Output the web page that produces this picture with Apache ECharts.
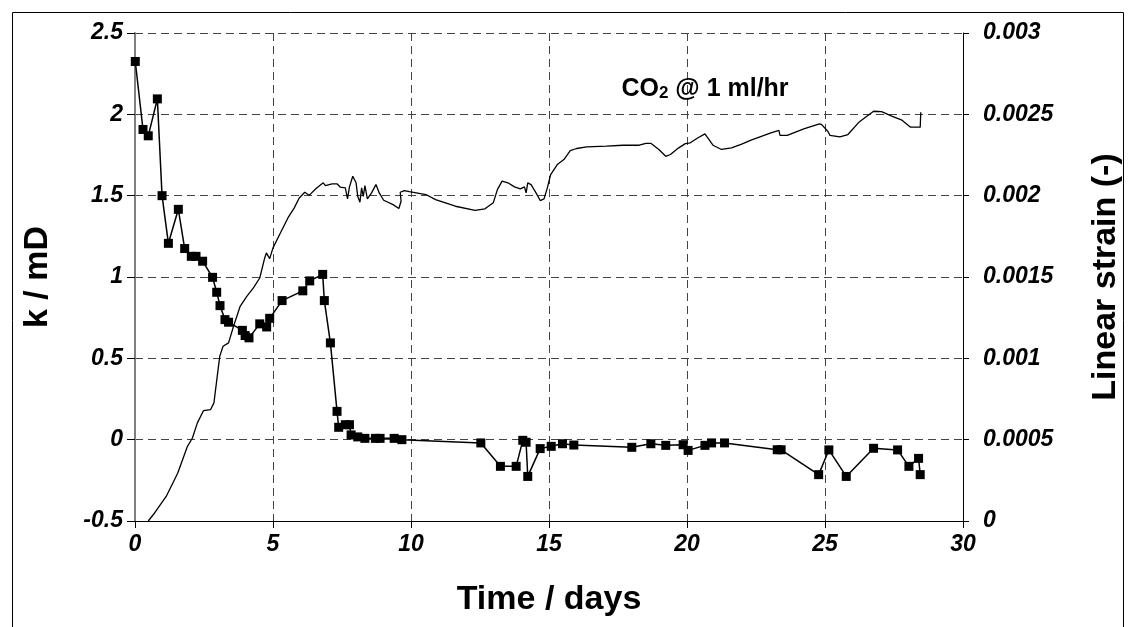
<!DOCTYPE html>
<html>
<head>
<meta charset="utf-8">
<script src="https://cdn.jsdelivr.net/npm/echarts@6/dist/echarts.min.js"></script>
<style>
  html, body { margin: 0; padding: 0; background: #fff; }
  #chart { width: 1131px; height: 627px; }
</style>
</head>
<body>
<div id="chart"></div>
<script>
// Axis ticks
const dayTicks = [0, 5, 10, 15, 20, 25, 30];
const kTicks = [-0.5, 0, 0.5, 1, 1.5, 2, 2.5];
const strainTicks = [0, 0.0005, 0.001, 0.0015, 0.002, 0.0025, 0.003];

// Permeability measurements (days, mD)
const kDays = [0.01, 0.29, 0.48, 0.81, 0.98, 1.21, 1.57, 1.80, 2.04, 2.21, 2.45, 2.81, 2.96, 3.08, 3.26, 3.39,
  3.89, 3.99, 4.13, 4.52, 4.77, 4.88, 5.33, 6.08, 6.33, 6.80, 6.86, 7.08, 7.32, 7.38, 7.62, 7.77, 7.83, 8.07,
  8.33, 8.71, 8.88, 9.39, 9.67, 12.53, 13.24, 13.81, 14.05, 14.17, 14.23, 14.68, 15.08, 15.49, 15.90, 18.0,
  18.69, 19.23, 19.86, 20.04, 20.65, 20.89, 21.36, 23.27, 23.41, 24.77, 25.14, 25.77, 26.76, 27.63, 28.04,
  28.39, 28.45];
const kValues = [2.325, 1.907, 1.868, 2.095, 1.50, 1.207, 1.416, 1.175, 1.127, 1.127, 1.097, 0.998, 0.906, 0.824,
  0.738, 0.722, 0.672, 0.64, 0.626, 0.712, 0.693, 0.746, 0.855, 0.915, 0.976, 1.016, 0.855, 0.595, 0.174, 0.076,
  0.092, 0.092, 0.029, 0.017, 0.008, 0.008, 0.008, 0.008, 0.0, -0.02, -0.164, -0.164, -0.004, -0.016, -0.226,
  -0.055, -0.041, -0.025, -0.033, -0.047, -0.025, -0.035, -0.031, -0.066, -0.035, -0.02, -0.02, -0.062, -0.062,
  -0.215, -0.063, -0.226, -0.053, -0.063, -0.164, -0.115, -0.215];

// Linear strain record (days, -)
const strainDays = [0.48, 0.71, 1.13, 1.55, 1.90, 2.08, 2.26, 2.48, 2.74, 2.86, 2.95, 3.07, 3.19, 3.39, 3.57,
  3.81, 4.05, 4.29, 4.52, 4.70, 4.76, 4.88, 5.0, 5.24, 5.54, 5.77, 5.95, 6.15, 6.31, 6.55, 6.82, 6.90, 7.14,
  7.32, 7.44, 7.62, 7.70, 7.77, 7.89, 8.01, 8.07, 8.15, 8.21, 8.27, 8.33, 8.42, 8.57, 8.73, 8.85, 9.01, 9.35,
  9.56, 9.64, 9.61, 9.76, 9.94, 10.54, 10.89, 11.61, 12.32, 12.68, 12.98, 13.13, 13.30, 13.51, 13.75, 13.96,
  14.11, 14.17, 14.23, 14.35, 14.53, 14.68, 14.82, 14.94, 15.06, 15.3, 15.54, 15.77, 16.0, 16.37, 17.08, 17.68,
  18.27, 18.51, 18.69, 18.98, 19.23, 19.4, 19.7, 19.94, 20.12, 20.4, 20.65, 20.94, 21.25, 21.61, 21.96, 22.32,
  23.04, 23.33, 23.37, 23.63, 24.23, 24.8, 24.88, 25.1, 25.18, 25.54, 25.83, 26.25, 26.76, 27.05, 27.44, 27.79,
  28.1, 28.45, 28.47];
const strainValues = [0, 0.0000492, 0.000151, 0.000295, 0.000459, 0.00051, 0.000603, 0.000678, 0.000685,
  0.000726, 0.000849, 0.001012, 0.001074, 0.001095, 0.001197, 0.00132, 0.001381, 0.001433, 0.001494, 0.001617,
  0.001648, 0.001613, 0.001679, 0.001761, 0.001863, 0.001925, 0.001986, 0.002021, 0.002002, 0.002042, 0.002079,
  0.002062, 0.002073, 0.002073, 0.002052, 0.002048, 0.00198, 0.002054, 0.002119, 0.002079, 0.001996, 0.00196,
  0.002048, 0.001996, 0.002062, 0.00198, 0.002017, 0.002068, 0.002017, 0.001972, 0.001945, 0.001921, 0.001966,
  0.002021, 0.002031, 0.002025, 0.002007, 0.001976, 0.001935, 0.00191, 0.001919, 0.001956, 0.002037, 0.002089,
  0.002079, 0.002054, 0.002042, 0.002054, 0.002017, 0.002079, 0.002068, 0.002017, 0.00197, 0.00198, 0.002048,
  0.00213, 0.002191, 0.002222, 0.002277, 0.00229, 0.0023, 0.002304, 0.00231, 0.00231, 0.002322, 0.002322,
  0.002284, 0.002242, 0.002253, 0.002294, 0.00232, 0.002325, 0.002356, 0.00238, 0.00231, 0.002284, 0.002294,
  0.002315, 0.002341, 0.002386, 0.002402, 0.002371, 0.002371, 0.002411, 0.002442, 0.002437, 0.002396, 0.002371,
  0.002361, 0.002376, 0.002455, 0.002519, 0.002517, 0.002488, 0.002464, 0.002421, 0.002421, 0.002513];

const FONT = 'Arial, "Liberation Sans", sans-serif';
const tickLabel = { fontFamily: FONT, fontSize: 23, fontWeight: 'bold', fontStyle: 'italic', color: '#000' };
const axisTitle = { fontFamily: FONT, fontSize: 34, fontWeight: 'bold', color: '#000' };
const gridDash = { color: '#444', width: 1, type: [8, 5] };

const chart = echarts.init(document.getElementById('chart'), null, { renderer: 'canvas' });

chart.setOption({
  animation: false,
  backgroundColor: '#fff',
  grid: { left: 135, right: 160, top: 33, bottom: 106, containLabel: false },
  graphic: [
    {
      type: 'rect', left: 10, top: 10, z: 0,
      shape: { width: 1111, height: 640 },
      style: { fill: 'none', stroke: '#000', lineWidth: 1 }
    },
    {
      type: 'text', x: 705, y: 88, z: 10,
      style: {
        text: '{a|CO}{b|2}{a| @ 1 ml/hr}',
        align: 'center', verticalAlign: 'middle',
        rich: {
          a: { fontFamily: FONT, fontSize: 25, fontWeight: 'bold', fill: '#000', lineHeight: 28, verticalAlign: 'bottom' },
          b: { fontFamily: FONT, fontSize: 17, fontWeight: 'bold', fill: '#000', lineHeight: 20, verticalAlign: 'bottom' }
        }
      }
    }
  ],
  xAxis: {
    type: 'value',
    min: dayTicks[0], max: dayTicks[dayTicks.length - 1], interval: dayTicks[1] - dayTicks[0],
    name: 'Time / days', nameLocation: 'middle', nameGap: 62, nameTextStyle: axisTitle,
    axisLine: { onZero: false, lineStyle: { color: '#000', width: 1 } },
    axisTick: { show: true, inside: false, length: 7, lineStyle: { color: '#000' } },
    axisLabel: Object.assign({ margin: 12 }, tickLabel),
    splitLine: { show: true, lineStyle: gridDash }
  },
  yAxis: [
    {
      type: 'value', position: 'left',
      min: kTicks[0], max: kTicks[kTicks.length - 1], interval: kTicks[1] - kTicks[0],
      name: 'k / mD', nameLocation: 'middle', nameRotate: 90, nameGap: 80, nameTextStyle: axisTitle,
      axisLine: { show: true, onZero: false, lineStyle: { color: '#808080', width: 2 } },
      axisTick: { show: true, inside: false, length: 8, lineStyle: { color: '#000' } },
      axisLabel: Object.assign({ margin: 12 }, tickLabel),
      splitLine: { show: true, lineStyle: gridDash }
    },
    {
      type: 'value', position: 'right',
      min: strainTicks[0], max: strainTicks[strainTicks.length - 1], interval: strainTicks[1] - strainTicks[0],
      name: 'Linear strain (-)', nameLocation: 'middle', nameRotate: 90, nameGap: 126, nameTextStyle: axisTitle,
      axisLine: { show: true, onZero: false, lineStyle: { color: '#000', width: 1 } },
      axisTick: { show: true, inside: false, length: 6, lineStyle: { color: '#000' } },
      axisLabel: Object.assign({ margin: 20 }, tickLabel),
      splitLine: { show: false }
    }
  ],
  series: [
    {
      name: 'Linear strain',
      type: 'line', yAxisIndex: 1,
      data: strainDays.map((d, i) => [d, strainValues[i]]),
      showSymbol: false, symbol: 'none',
      lineStyle: { color: '#000', width: 1.3 },
      z: 3
    },
    {
      name: 'k',
      type: 'line', yAxisIndex: 0,
      data: kDays.map((d, i) => [d, kValues[i]]),
      symbol: 'rect', symbolSize: 9,
      itemStyle: { color: '#000' },
      lineStyle: { color: '#000', width: 1.5 },
      z: 4
    }
  ]
});
</script>
</body>
</html>
